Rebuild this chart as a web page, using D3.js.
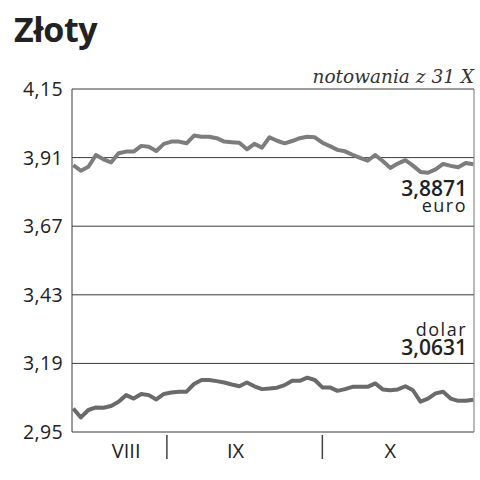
<!DOCTYPE html>
<html>
<head>
<meta charset="utf-8">
<script src="https://cdn.jsdelivr.net/npm/d3@7"></script>
<style>
  body { margin: 0; background: #fff; }
  svg { display: block; }
</style>
</head>
<body>
<div id="chart"></div>
<script>
// kursy z sesji, od połowy sierpnia do 31 X
var euro = [3.884, 3.864, 3.878, 3.919, 3.904, 3.893, 3.925, 3.931, 3.931, 3.951,
  3.948, 3.933, 3.958, 3.966, 3.966, 3.960, 3.987, 3.983, 3.983, 3.978,
  3.966, 3.964, 3.962, 3.939, 3.958, 3.945, 3.981, 3.969, 3.960, 3.968,
  3.978, 3.983, 3.981, 3.962, 3.950, 3.937, 3.932, 3.920, 3.909, 3.899,
  3.919, 3.898, 3.874, 3.889, 3.901, 3.882, 3.860, 3.857, 3.869, 3.888,
  3.881, 3.876, 3.891, 3.887];
var dolar = [3.032, 3.001, 3.027, 3.036, 3.035, 3.041, 3.056, 3.079, 3.067, 3.083,
  3.079, 3.064, 3.083, 3.088, 3.091, 3.091, 3.118, 3.132, 3.132, 3.128,
  3.123, 3.116, 3.110, 3.123, 3.110, 3.100, 3.102, 3.105, 3.114, 3.129,
  3.129, 3.140, 3.132, 3.106, 3.106, 3.094, 3.100, 3.108, 3.108, 3.108,
  3.120, 3.099, 3.096, 3.099, 3.110, 3.096, 3.056, 3.067, 3.085, 3.091,
  3.067, 3.059, 3.059, 3.063];
var yTicks = [2.95, 3.19, 3.43, 3.67, 3.91, 4.15];
var months = ["VIII", "IX", "X"];
var monthLabelAt = [7, 21.5, 42];   // numer sesji pod etykietą
var monthBreaks = [12.4, 33];       // granice miesięcy (sesje)
var lastEuro = "3,8871", lastDolar = "3,0631";

var width = 480, height = 480;
var pLeft = 72, pRight = 474, pTop = 89, pBottom = 432;

var svg = d3.select("#chart").append("svg")
  .attr("width", width)
  .attr("height", height);

var x = d3.scaleLinear()
  .domain([0, euro.length - 1])
  .range([pLeft + 1.3, pRight - 0.7]);

var y = d3.scaleLinear()
  .domain([2.95, 4.15])
  .range([pBottom, pTop]);

var fmt = function(v) { return d3.format(".2f")(v).replace(".", ","); };

// tytuł
svg.append("text")
  .attr("x", 14).attr("y", 42)
  .style("font-family", "'Open Sans', sans-serif")
  .style("font-weight", 700)
  .style("font-size", "34px")
  .style("letter-spacing", "-0.4px")
  .style("fill", "#222")
  .text("Złoty");

svg.append("text")
  .attr("x", pRight).attr("y", 83)
  .attr("text-anchor", "end")
  .style("font-family", "'DejaVu Serif', serif")
  .style("font-style", "italic")
  .style("font-size", "18.5px")
  .style("fill", "#333")
  .text("notowania z 31 X");

// siatka
svg.append("g")
  .selectAll("line")
  .data(yTicks)
  .enter().append("line")
    .attr("x1", pLeft).attr("x2", pRight)
    .attr("y1", function(d) { return y(d); })
    .attr("y2", function(d) { return y(d); })
    .attr("stroke", "#3a3a3a")
    .attr("stroke-width", 1);

svg.append("line")
  .attr("x1", pLeft).attr("x2", pLeft).attr("y1", pTop).attr("y2", pBottom)
  .attr("stroke", "#3a3a3a");
svg.append("line")
  .attr("x1", pRight).attr("x2", pRight).attr("y1", pTop).attr("y2", pBottom)
  .attr("stroke", "#777");

svg.append("g")
  .selectAll("text")
  .data(yTicks)
  .enter().append("text")
    .attr("x", 63)
    .attr("y", function(d) { return y(d) + 7; })
    .attr("text-anchor", "end")
    .style("font-family", "'Open Sans', sans-serif")
    .style("font-size", "19.5px")
    .style("letter-spacing", "0.4px")
    .style("fill", "#222")
    .text(fmt);

// linie kursów
var line = d3.line()
  .x(function(d, i) { return x(i); })
  .y(function(d) { return y(d); });

svg.append("path")
  .datum(euro)
  .attr("d", line)
  .attr("fill", "none")
  .attr("stroke", "#7d7d7d")
  .attr("stroke-width", 4)
  .attr("stroke-linejoin", "round");

svg.append("path")
  .datum(dolar)
  .attr("d", line)
  .attr("fill", "none")
  .attr("stroke", "#6a6a6a")
  .attr("stroke-width", 4)
  .attr("stroke-linejoin", "round");

// opisy
function label(txt, yy, size, weight, spacing) {
  svg.append("text")
    .attr("x", 467).attr("y", yy)
    .attr("text-anchor", "end")
    .style("font-family", "'Open Sans', sans-serif")
    .style("font-size", size)
    .style("font-weight", weight)
    .style("letter-spacing", spacing)
    .style("fill", "#222")
    .text(txt);
}
label(lastEuro, 196, "21px", 600, "0px");
label("euro", 212, "18px", 400, "1.5px");
label("dolar", 336, "18px", 400, "1.5px");
label(lastDolar, 355, "21px", 600, "0px");

// oś miesięcy
svg.append("g")
  .selectAll("line")
  .data(monthBreaks)
  .enter().append("line")
    .attr("x1", function(d) { return x(d); })
    .attr("x2", function(d) { return x(d); })
    .attr("y1", 435).attr("y2", 459)
    .attr("stroke", "#444")
    .attr("stroke-width", 1.5);

svg.append("g")
  .selectAll("text")
  .data(months)
  .enter().append("text")
    .attr("x", function(d, i) { return x(monthLabelAt[i]); })
    .attr("y", 458)
    .attr("text-anchor", "middle")
    .style("font-family", "'Open Sans', sans-serif")
    .style("font-size", "20px")
    .style("fill", "#222")
    .text(function(d) { return d; });
</script>
</body>
</html>
